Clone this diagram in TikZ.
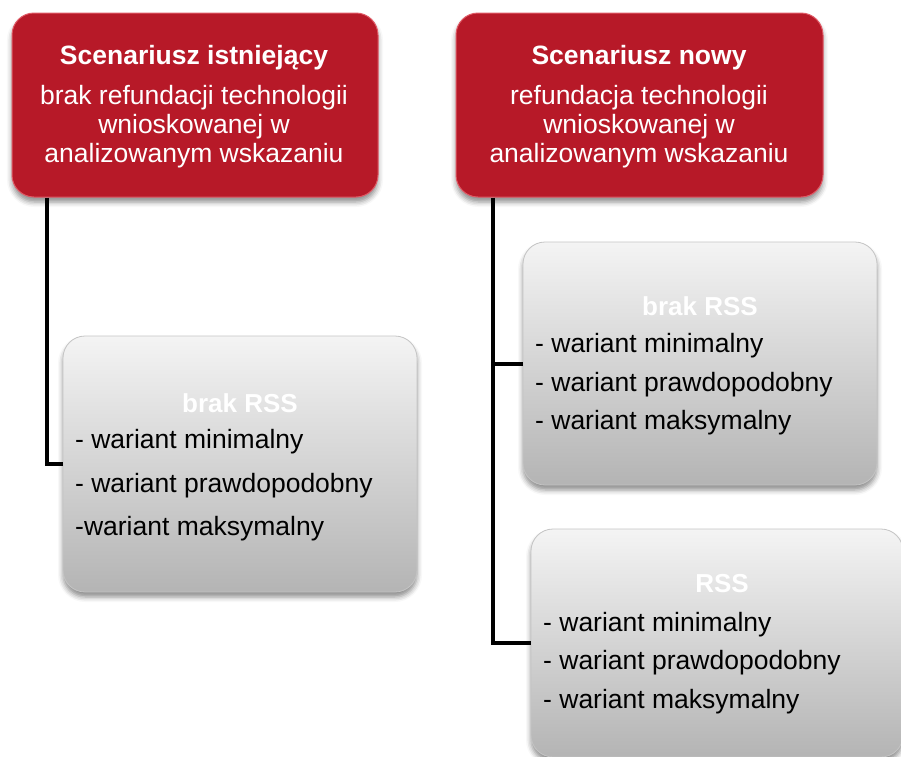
\documentclass[tikz,border=0pt]{standalone}
\usepackage{fontspec}
\setmainfont{Liberation Sans}
\usetikzlibrary{shadows.blur}
\definecolor{boxred}{HTML}{B71928}
\definecolor{rimred}{HTML}{E05A66}
\definecolor{gtop}{HTML}{F4F4F4}
\definecolor{gbot}{HTML}{B4B4B4}
\definecolor{gedge}{HTML}{C4C4C4}
\begin{document}
\begin{tikzpicture}[x=1pt,y=-1pt,
  redbox/.style={fill=boxred, draw=rimred, line width=1pt, rounded corners=22pt,
    blur shadow={shadow xshift=0pt, shadow yshift=-5pt, shadow blur radius=5pt, shadow opacity=45}},
  graybox/.style={top color=gtop, bottom color=gbot, draw=gedge, line width=0.8pt, rounded corners=22pt,
    blur shadow={shadow xshift=0pt, shadow yshift=-5pt, shadow blur radius=5pt, shadow opacity=45}},
  redtitle/.style={text=white, font=\bfseries\fontsize{26.5}{30}\selectfont},
  redbody/.style={text=white, align=center, font=\fontsize{26.5}{29}\selectfont},
  graytitle/.style={text=white, font=\bfseries\fontsize{26}{30}\selectfont},
  item/.style={anchor=west, text=black, font=\fontsize{26.5}{30}\selectfont, inner sep=0pt},
  conn/.style={draw=black, line width=4pt}
]
\useasboundingbox (0,0) rectangle (901,756);
\clip (0,0) rectangle (901,756);

% boxes
\node[redbox, minimum width=366pt, minimum height=184pt, inner sep=0pt] (s1) at (195,105) {};
\node[redbox, minimum width=367pt, minimum height=184pt, inner sep=0pt] (s2) at (639.5,105) {};

\node[graybox, minimum width=354pt, minimum height=256pt, inner sep=0pt] (g1) at (240,464) {};
\node[graybox, minimum width=354pt, minimum height=243pt, inner sep=0pt] (g2) at (700,363.5) {};
\node[graybox, minimum width=372pt, minimum height=228pt, inner sep=0pt] (g3) at (717,643) {};

% red box texts
\node[redtitle] (t1) at (194,58) {Scenariusz istniejący};
\node[redbody] (b1) at (194,127) {brak refundacji technologii\\wnioskowanej w\\analizowanym wskazaniu};
\node[redtitle] (t2) at (639,58) {Scenariusz nowy};
\node[redbody] (b2) at (639,127) {refundacja technologii\\wnioskowanej w\\analizowanym wskazaniu};

% gray box texts
\node[graytitle] (h1) at (240,403) {brak RSS};
\node[item] (i11) at (75,442) {- wariant minimalny};
\node[item] (i12) at (75,486) {- wariant prawdopodobny};
\node[item] (i13) at (75,529) {-wariant maksymalny};

\node[graytitle] (h2) at (700,306) {brak RSS};
\node[item] (i21) at (535,346) {- wariant minimalny};
\node[item] (i22) at (535,385) {- wariant prawdopodobny};
\node[item] (i23) at (535,423) {- wariant maksymalny};

\node[graytitle] (h3) at (722,584) {RSS};
\node[item] (i31) at (543,625) {- wariant minimalny};
\node[item] (i32) at (543,663) {- wariant prawdopodobny};
\node[item] (i33) at (543,702) {- wariant maksymalny};

% connectors
\coordinate (lx) at (47,0);
\coordinate (rx) at (493,0);
\draw[conn] (s1.south -| lx) |- (g1.west);
\draw[conn] (s2.south -| rx) |- (g3.west);
\draw[conn] (g2.west -| rx) -- (g2.west);
\end{tikzpicture}
\end{document}
